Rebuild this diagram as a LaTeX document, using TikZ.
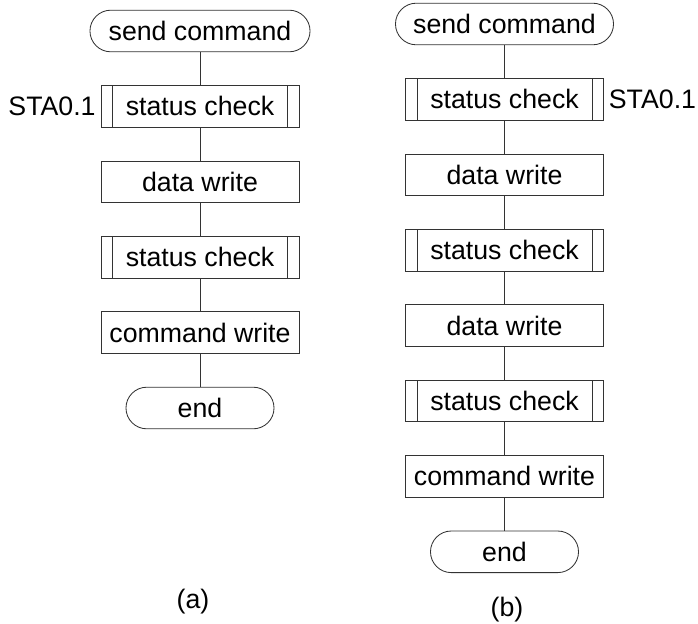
\documentclass[tikz,border=0pt]{standalone}
\usepackage{fontspec}
\setmainfont{Liberation Sans}
\begin{document}
\begin{tikzpicture}[x=0.025cm, y=-0.025cm, font=\fontsize{19}{23}\selectfont]
\tikzstyle{line}=[draw=black!80, line width=0.6pt]
\tikzstyle{proc}=[line, rectangle, minimum width=4.95cm, minimum height=1.04cm, inner sep=0pt]
\tikzstyle{subproc}=[proc, path picture={
  \draw[line] ([xshift=0.29cm]path picture bounding box.north west) -- ([xshift=0.29cm]path picture bounding box.south west);
  \draw[line] ([xshift=-0.29cm]path picture bounding box.north east) -- ([xshift=-0.29cm]path picture bounding box.south east);}]
\tikzstyle{term}=[line, rectangle, rounded corners=0.52cm, minimum height=1.04cm, inner sep=0pt]
\useasboundingbox (0,0) rectangle (698,624);
% (a)
\draw node [term, minimum width=5.5cm] (A0) at (200,31) {send command};
\draw node [subproc] (A1) at (200,106.4) {status check};
\draw node [proc] (A2) at (200,181.8) {data write};
\draw node [subproc] (A3) at (200,257.2) {status check};
\draw node [proc] (A4) at (200,332.6) {command write};
\draw node [term, minimum width=3.7cm] (A5) at (200,408) {end};
\draw[line] (A0) -- (A1);
\draw[line] (A1) -- (A2);
\draw[line] (A2) -- (A3);
\draw[line] (A3) -- (A4);
\draw[line] (A4) -- (A5);
\draw node [left] (LA) at (A1.west) {STA0.1};
\draw node (CA) at (193,602) {(a)};
% (b)
\draw node [term, minimum width=5.45cm] (B0) at (504.5,24) {send command};
\draw node [subproc] (B1) at (504.5,99.4) {status check};
\draw node [proc] (B2) at (504.5,174.8) {data write};
\draw node [subproc] (B3) at (504.5,250.2) {status check};
\draw node [proc] (B4) at (504.5,325.6) {data write};
\draw node [subproc] (B5) at (504.5,401) {status check};
\draw node [proc] (B6) at (504.5,476.4) {command write};
\draw node [term, minimum width=3.7cm] (B7) at (504.5,551.8) {end};
\draw[line] (B0) -- (B1);
\draw[line] (B1) -- (B2);
\draw[line] (B2) -- (B3);
\draw[line] (B3) -- (B4);
\draw[line] (B4) -- (B5);
\draw[line] (B5) -- (B6);
\draw[line] (B6) -- (B7);
\draw node [right] (LB) at (B1.east) {STA0.1};
\draw node (CB) at (507,610) {(b)};
\end{tikzpicture}
\end{document}
